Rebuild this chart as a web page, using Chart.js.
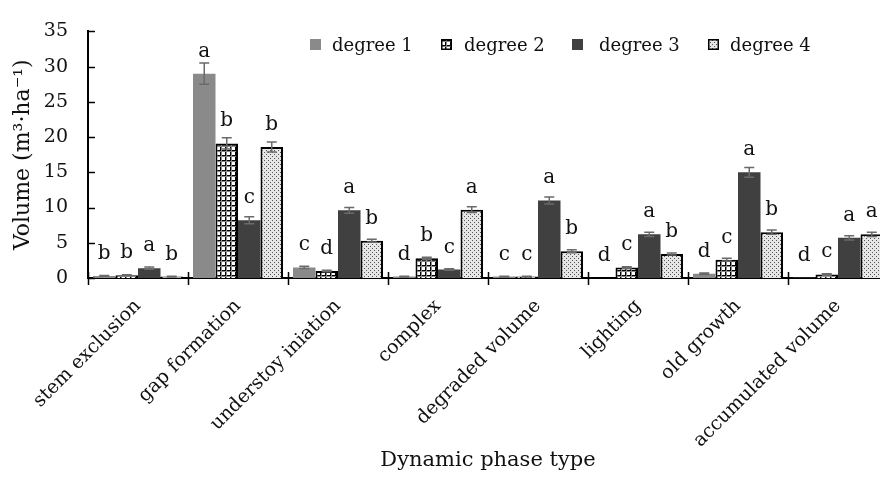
<!DOCTYPE html>
<html>
<head>
<meta charset="utf-8">
<script src="https://cdn.jsdelivr.net/npm/chart.js@4.4.1/dist/chart.umd.min.js"></script>
<style>
  html, body { margin: 0; padding: 0; background: #fff; overflow: hidden; }
  #wrap { width: 880px; height: 488px; overflow: hidden; position: relative; }
  canvas { display: block; }
</style>
</head>
<body>
<div id="wrap"><canvas id="c" width="888" height="488"></canvas></div>
<script>
// ---------- data ----------
const categories = ["stem exclusion", "gap formation", "understoy iniation", "complex",
                    "degraded volume", "lighting", "old growth", "accumulated volume"];
const seriesNames = ["degree 1", "degree 2", "degree 3", "degree 4"];
const degree1 = [0.3, 29.0, 1.5, 0.2, 0.2, 0.0, 0.6, 0.05];
const degree2 = [0.4, 19.1, 1.0, 2.8, 0.2, 1.5, 2.6, 0.5];
const degree3 = [1.4, 8.2, 9.6, 1.2, 11.0, 6.2, 15.0, 5.7];
const degree4 = [0.2, 18.6, 5.3, 9.7, 3.8, 3.4, 6.5, 6.2];
const err1 = [0.05, 1.5, 0.15, 0.05, 0.05, 0.0, 0.1, 0.0];
const err2 = [0.05, 0.8, 0.1, 0.15, 0.05, 0.1, 0.2, 0.1];
const err3 = [0.15, 0.5, 0.4, 0.1, 0.5, 0.3, 0.7, 0.3];
const err4 = [0.05, 0.7, 0.2, 0.4, 0.2, 0.15, 0.3, 0.3];
const letters1 = ["b", "a", "c", "d", "c", "d", "d", "d"];
const letters2 = ["b", "b", "d", "b", "c", "c", "c", "c"];
const letters3 = ["a", "c", "a", "c", "a", "a", "a", "a"];
const letters4 = ["b", "b", "b", "a", "b", "b", "b", "a"];
const yTicks = [0, 5, 10, 15, 20, 25, 30, 35];
const yTitle = "Volume (m\u00B3\u00B7ha\u207B\u00B9)";
const xTitle = "Dynamic phase type";

// ---------- patterns ----------
function gridPattern() {
  const c = document.createElement('canvas');
  c.width = 5; c.height = 5;
  const g = c.getContext('2d');
  g.fillStyle = '#fff'; g.fillRect(0, 0, 5, 5);
  g.fillStyle = '#000'; g.fillRect(0, 0, 5, 1); g.fillRect(0, 0, 1, 5);
  g.fillStyle = '#888'; g.fillRect(0, 1, 5, 1); g.fillRect(1, 0, 1, 5);
  return g.createPattern(c, 'repeat');
}
function dotPattern() {
  const c = document.createElement('canvas');
  c.width = 4; c.height = 4;
  const g = c.getContext('2d');
  g.fillStyle = '#e6e6e6'; g.fillRect(0, 0, 4, 4);
  g.fillStyle = '#555'; g.fillRect(0, 0, 1, 1); g.fillRect(2, 2, 1, 1);
  return g.createPattern(c, 'repeat');
}
const fills = ['#8a8a8a', gridPattern(), '#404040', dotPattern()];
const borders = [0, 2, 0, 2];
const values = [degree1, degree2, degree3, degree4];
const errs = [err1, err2, err3, err4];
const letters = [letters1, letters2, letters3, letters4];

const FONT = "'DejaVu Serif', 'Liberation Serif', serif";

// ---------- plugins ----------
const decor = {
  id: 'decor',
  afterDatasetsDraw(chart) {
    const ctx = chart.ctx;
    const y = chart.scales.y;
    ctx.save();
    // error bars
    ctx.strokeStyle = '#6a6a6a';
    ctx.lineWidth = 1.5;
    values.forEach((vals, i) => {
      const meta = chart.getDatasetMeta(i);
      vals.forEach((v, j) => {
        const e = errs[i][j];
        if (!e) return;
        const x = meta.data[j].x;
        const y1 = y.getPixelForValue(v + e), y2 = y.getPixelForValue(v - e);
        ctx.beginPath();
        ctx.moveTo(x, y1); ctx.lineTo(x, y2);
        ctx.moveTo(x - 5, y1); ctx.lineTo(x + 5, y1);
        ctx.moveTo(x - 5, y2); ctx.lineTo(x + 5, y2);
        ctx.stroke();
      });
    });
    // letters
    ctx.fillStyle = '#111';
    ctx.font = "20px " + FONT;
    ctx.textAlign = 'center';
    ctx.textBaseline = 'alphabetic';
    values.forEach((vals, i) => {
      const meta = chart.getDatasetMeta(i);
      vals.forEach((v, j) => {
        const x = meta.data[j].x;
        ctx.fillText(letters[i][j], x, y.getPixelForValue(v) - 17);
      });
    });
    ctx.restore();
  },
  afterDraw(chart) {
    const ctx = chart.ctx;
    const area = chart.chartArea;
    const ys = chart.scales.y;
    ctx.save();
    ctx.strokeStyle = '#000';
    ctx.lineWidth = 1.5;
    // y ticks (inside)
    yTicks.forEach(t => {
      const py = Math.round(ys.getPixelForValue(t)) + 0.5;
      ctx.beginPath(); ctx.moveTo(area.left, py); ctx.lineTo(area.left + 7, py); ctx.stroke();
    });
    // x ticks (cross) at category boundaries
    const n = categories.length;
    const w = (area.right - area.left) / n;
    for (let k = 0; k <= n; k++) {
      const px = Math.round(area.left + k * w) + 0.5;
      ctx.beginPath(); ctx.moveTo(px, area.bottom - 6); ctx.lineTo(px, area.bottom + 7); ctx.stroke();
    }
    // legend
    const lx = [310, 441, 572, 708];
    const tx = [332, 464, 599, 730];
    ctx.font = "18px " + FONT;
    ctx.textAlign = 'left';
    ctx.textBaseline = 'alphabetic';
    seriesNames.forEach((name, i) => {
      ctx.fillStyle = fills[i];
      ctx.fillRect(lx[i], 39, 11, 11);
      if (borders[i]) {
        ctx.lineWidth = 1.5; ctx.strokeStyle = '#000';
        ctx.strokeRect(lx[i] + 0.75, 39.75, 9.5, 9.5);
      }
      ctx.fillStyle = '#111';
      ctx.fillText(name, tx[i], 51);
    });
    ctx.restore();
  }
};

new Chart(document.getElementById('c'), {
  type: 'bar',
  data: {
    labels: categories,
    datasets: seriesNames.map((name, i) => ({
      label: name,
      data: values[i],
      backgroundColor: fills[i],
      borderColor: '#000',
      borderWidth: borders[i],
      borderSkipped: 'bottom',
      categoryPercentage: 0.9,
      barPercentage: 1.0
    }))
  },
  options: {
    responsive: false,
    devicePixelRatio: 1,
    animation: false,
    layout: { padding: { top: 19, left: 0, right: 0, bottom: 0 } },
    plugins: { legend: { display: false }, tooltip: { enabled: false } },
    scales: {
      x: {
        grid: { display: false, drawTicks: false },
        border: { color: '#000', width: 2 },
        ticks: {
          color: '#111', font: { family: FONT, size: 19 },
          maxRotation: 45, minRotation: 45, autoSkip: false, padding: 17
        },
        title: {
          display: true, text: xTitle, color: '#111',
          font: { family: FONT, size: 21 }, padding: { top: 0, bottom: 15 }
        },
        afterFit(s) { s.height = 210; }
      },
      y: {
        min: 0, max: 35,
        grid: { display: false, drawTicks: false },
        border: { color: '#000', width: 2 },
        ticks: {
          stepSize: 5, color: '#111', font: { family: FONT, size: 19 }, padding: 20
        },
        title: {
          display: true, text: yTitle, color: '#111',
          font: { family: FONT, size: 22 }, padding: { top: 10, bottom: 0 }
        },
        afterFit(s) { s.width = 88; }
      }
    }
  },
  plugins: [decor]
});
</script>
</body>
</html>
